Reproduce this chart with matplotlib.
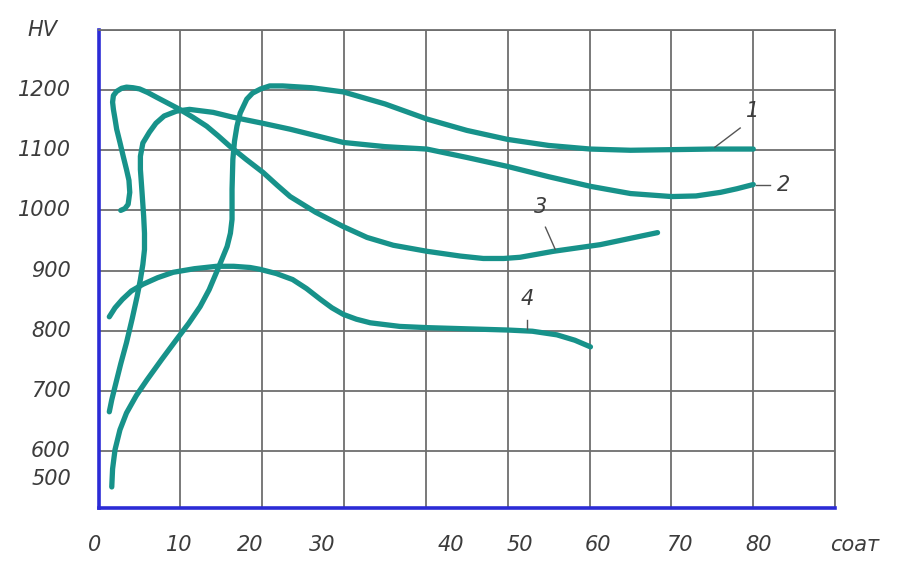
import matplotlib
matplotlib.use("Agg")
import matplotlib.pyplot as plt

# curve data (x in соат, y in HV)
x1 = [1.6, 1.7, 2.0, 2.6, 3.4, 4.6, 5.9, 7.7, 9.5, 11.0, 12.4, 13.5, 14.4, 15.1, 15.7, 16.1, 16.3, 16.3,
      16.4, 16.6, 16.9, 17.3, 18.1, 18.8, 19.8, 20.9, 22.5, 26.0, 29.9, 35.0, 40.1, 45.0, 50.0, 55.0,
      60.1, 65.0, 70.0, 75.0, 80.0]
y1 = [540, 570, 602, 635, 663, 692, 718, 752, 785, 812, 840, 868, 897, 920, 940, 962, 985, 1035,
      1085, 1115, 1140, 1162, 1185, 1195, 1202, 1207, 1207, 1204, 1197, 1177, 1152, 1133, 1118, 1108,
      1102, 1100, 1101, 1102, 1102]

x2 = [1.3, 1.6, 2.0, 2.7, 3.4, 4.1, 4.7, 5.1, 5.4, 5.6, 5.6, 5.5, 5.3, 5.1, 5.1, 5.4, 6.2, 7.0, 8.0,
      9.5, 11.1, 14.0, 16.4, 20.0, 23.4, 29.9, 35.0, 40.1, 45.0, 50.0, 55.0, 60.1, 65.0, 70.0, 73.0,
      76.0, 78.0, 80.0]
y2 = [665, 685, 707, 745, 780, 820, 857, 885, 910, 935, 962, 990, 1030, 1068, 1090, 1112, 1130, 1145,
      1157, 1165, 1168, 1163, 1155, 1145, 1135, 1113, 1106, 1102, 1088, 1073, 1056, 1040, 1028, 1023,
      1024, 1030, 1036, 1043]

x3 = [2.7, 3.2, 3.6, 3.8, 3.7, 3.4, 3.0, 2.6, 2.2, 2.0, 1.8, 1.7, 1.8, 2.2, 2.8, 3.4, 4.2, 5.0, 6.0,
      7.1, 8.5, 9.9, 11.5, 13.2, 14.6, 16.0, 18.0, 20.1, 21.8, 23.4, 26.5, 29.9, 32.8, 36.0, 40.1,
      44.2, 47.0, 49.5, 51.5, 55.6, 61.3, 68.3]
y3 = [1000, 1003, 1010, 1030, 1050, 1068, 1090, 1113, 1135, 1152, 1168, 1180, 1191, 1198, 1203, 1205,
      1204, 1202, 1196, 1188, 1178, 1168, 1155, 1140, 1124, 1107, 1085, 1063, 1042, 1023, 997, 973,
      955, 942, 932, 924, 920, 920, 922, 932, 943, 963]

x4 = [1.3, 2.0, 2.9, 4.0, 5.4, 7.2, 9.1, 11.7, 14.4, 16.5, 18.5, 19.7, 21.7, 23.7, 25.4, 27.1, 28.5,
      29.9, 31.5, 33.2, 36.8, 40.1, 45.0, 50.0, 53.0, 56.0, 58.2, 60.1]
y4 = [823, 838, 852, 866, 877, 888, 897, 903, 907, 907, 905, 902, 895, 885, 870, 852, 838,
      827, 819, 813, 807, 805, 803, 801, 799, 793, 784, 773]

curve_names = ['1', '2', '3', '4']
name_x = [79.9, 83.7, 54.0, 52.4]
name_y = [1165, 1043, 1005, 852]
# leader lines: (x_start, y_start, x_end, y_end)
leaders = [(75.3, 1105, 78.4, 1137),
           (80.3, 1043, 82.1, 1043),
           (55.8, 935, 54.6, 972),
           (52.4, 802, 52.4, 818)]

xticks = [0, 10, 20, 30, 40, 50, 60, 70, 80]
xlabel_shift = [-0.5, -0.1, -1.5, -2.7, 3.0, 1.5, 1.0, 1.0, 0.7]
yticks = [600, 700, 800, 900, 1000, 1100, 1200]

teal = '#17928a'
txt = '#3c3c3c'
gridc = '#6e6e6e'
blue = '#2b2bd6'

fig = plt.figure(figsize=(8.97, 5.63), dpi=100)
ax = fig.add_axes([0.110, 0.0977, 0.821, 0.849])
ax.set_xlim(0, 90)
ax.set_ylim(505, 1300)

ax.set_xticks(xticks + [90])
ax.set_yticks(yticks + [1300])
ax.grid(True, color=gridc, lw=1.3)
ax.tick_params(length=0, labelbottom=False, labelleft=False)
ax.set_axisbelow(True)

for s in ['top', 'right']:
    ax.spines[s].set_color(gridc)
    ax.spines[s].set_linewidth(1.3)
for s in ['left', 'bottom']:
    ax.spines[s].set_color(blue)
    ax.spines[s].set_linewidth(2.6)

for xs, ys in [(x1, y1), (x2, y2), (x3, y3), (x4, y4)]:
    ax.plot(xs, ys, color=teal, lw=3.8, solid_capstyle='round', solid_joinstyle='round')

for nm, nx, ny, ld in zip(curve_names, name_x, name_y, leaders):
    ax.text(nx, ny, nm, fontsize=15, style='italic', color=txt, ha='center', va='center')
    ax.plot([ld[0], ld[2]], [ld[1], ld[3]], color='#555555', lw=1.0)

font = dict(fontsize=15, style='italic', color=txt)
for v in yticks:
    ax.annotate(str(v), (0, v), xycoords=('axes fraction', 'data'),
                xytext=(-20, 0), textcoords='offset points', ha='right', va='center', **font)
# the 500 label sits squeezed just under 600 in the original
ax.annotate('500', (0, 553), xycoords=('axes fraction', 'data'),
            xytext=(-20, 0), textcoords='offset points', ha='right', va='center', **font)
ax.annotate('HV', (0, 1300), xycoords=('axes fraction', 'data'),
            xytext=(-30, 0), textcoords='offset points', ha='right', va='center', **font)

for v, sh in zip(xticks, xlabel_shift):
    ax.annotate(str(v), (v + sh, 0), xycoords=('data', 'axes fraction'),
                xytext=(0, -27), textcoords='offset points', ha='center', va='center', **font)
ax.annotate('соат', (90, 0), xycoords=('data', 'axes fraction'),
            xytext=(14, -27), textcoords='offset points', ha='center', va='center', **font)

fig.savefig('out.png', dpi=100)
